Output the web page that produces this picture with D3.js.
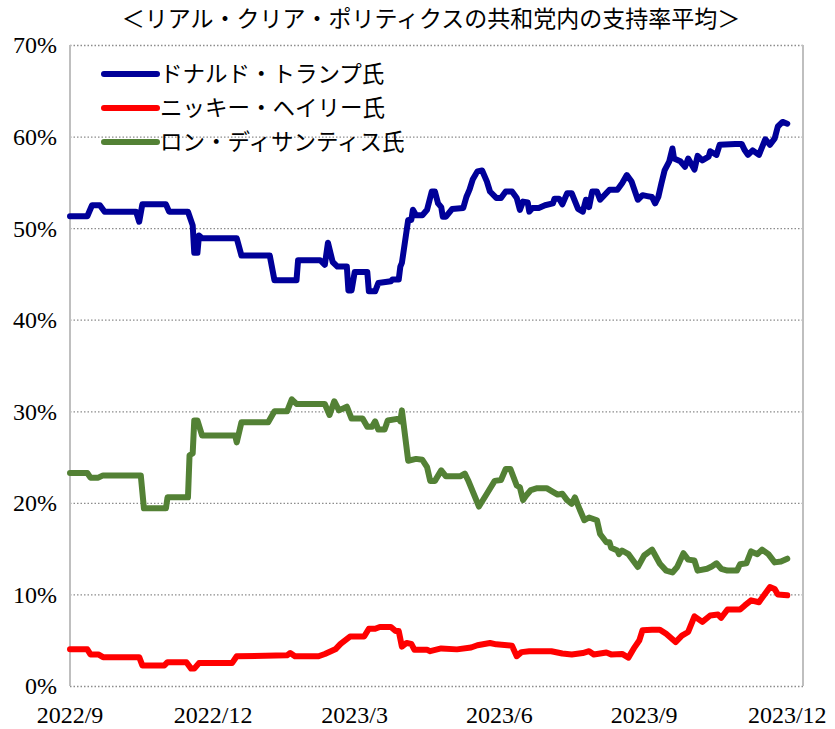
<!DOCTYPE html>
<html>
<head>
<meta charset="utf-8">
<script src="https://cdn.jsdelivr.net/npm/d3@7"></script>
<style>
  body { margin: 0; background: #fff; }
  svg { display: block; }
</style>
</head>
<body>
<svg width="835" height="729"></svg>
<script>
// Chart title, legend names and axis ticks
const title = "＜リアル・クリア・ポリティクスの共和党内の支持率平均＞";
const names = ["ドナルド・トランプ氏", "ニッキー・ヘイリー氏", "ロン・ディサンティス氏"];
const colors = ["#000099", "#ff0000", "#538135"];
const yTicks = [0, 10, 20, 30, 40, 50, 60, 70];
const xTicks = ["2022-09-01", "2022-12-01", "2023-03-01", "2023-06-01", "2023-09-01", "2023-12-01"];

// Support averages (%)
const trump = [
  ["2022-09-01", 51.3], ["2022-09-12", 51.3], ["2022-09-15", 52.5], ["2022-09-20", 52.5],
  ["2022-09-23", 51.8], ["2022-10-13", 51.8], ["2022-10-15", 50.7], ["2022-10-17", 52.6],
  ["2022-11-01", 52.6], ["2022-11-03", 51.8], ["2022-11-15", 51.8], ["2022-11-18", 50.3],
  ["2022-11-19", 47.3], ["2022-11-21", 47.3], ["2022-11-22", 49.2], ["2022-11-24", 48.9],
  ["2022-12-16", 48.9], ["2022-12-19", 47.0], ["2023-01-06", 47.0], ["2023-01-09", 44.3],
  ["2023-01-23", 44.3], ["2023-01-24", 46.5], ["2023-02-07", 46.5], ["2023-02-10", 46.0],
  ["2023-02-12", 48.4], ["2023-02-15", 46.3], ["2023-02-18", 45.8], ["2023-02-24", 45.8],
  ["2023-02-25", 43.2], ["2023-02-27", 43.2], ["2023-03-01", 45.2], ["2023-03-09", 45.2],
  ["2023-03-10", 43.1], ["2023-03-14", 43.1], ["2023-03-16", 44.0], ["2023-03-24", 44.2],
  ["2023-03-25", 44.4], ["2023-03-29", 44.4], ["2023-03-30", 45.8], ["2023-03-31", 46.2],
  ["2023-04-04", 50.9], ["2023-04-06", 50.9], ["2023-04-07", 52.0], ["2023-04-09", 51.4],
  ["2023-04-13", 51.4], ["2023-04-16", 52.0], ["2023-04-19", 54.0], ["2023-04-21", 54.0],
  ["2023-04-23", 52.7], ["2023-04-25", 52.3], ["2023-04-26", 51.25], ["2023-04-28", 51.25],
  ["2023-05-02", 52.1], ["2023-05-09", 52.2], ["2023-05-11", 53.4], ["2023-05-13", 54.2],
  ["2023-05-15", 55.3], ["2023-05-18", 56.2], ["2023-05-21", 56.3], ["2023-05-24", 55.1],
  ["2023-05-26", 54.0], ["2023-05-30", 53.3], ["2023-06-02", 53.3], ["2023-06-05", 54.0],
  ["2023-06-09", 54.0], ["2023-06-12", 53.3], ["2023-06-14", 52.0], ["2023-06-16", 52.9],
  ["2023-06-19", 52.8], ["2023-06-20", 51.8], ["2023-06-22", 52.2], ["2023-06-26", 52.2],
  ["2023-06-30", 52.5], ["2023-07-05", 52.7], ["2023-07-06", 53.2], ["2023-07-09", 53.2],
  ["2023-07-11", 52.6], ["2023-07-14", 53.8], ["2023-07-17", 53.8], ["2023-07-21", 52.1],
  ["2023-07-24", 51.8], ["2023-07-26", 53.1], ["2023-07-28", 52.3], ["2023-07-30", 54.0],
  ["2023-08-02", 54.0], ["2023-08-04", 53.1], ["2023-08-10", 54.2], ["2023-08-15", 54.2],
  ["2023-08-18", 54.9], ["2023-08-21", 55.8], ["2023-08-24", 55.1], ["2023-08-28", 53.1],
  ["2023-08-31", 53.6], ["2023-09-03", 53.5], ["2023-09-06", 53.4], ["2023-09-08", 52.7],
  ["2023-09-10", 53.4], ["2023-09-12", 54.9], ["2023-09-14", 56.3], ["2023-09-17", 57.3],
  ["2023-09-19", 58.7], ["2023-09-20", 57.6], ["2023-09-24", 57.3], ["2023-09-27", 56.7],
  ["2023-09-29", 57.6], ["2023-10-03", 56.4], ["2023-10-05", 57.9], ["2023-10-08", 57.4],
  ["2023-10-12", 57.8], ["2023-10-13", 58.4], ["2023-10-17", 58.0], ["2023-10-19", 59.1],
  ["2023-10-29", 59.2], ["2023-11-02", 59.2], ["2023-11-04", 58.5], ["2023-11-06", 58.0],
  ["2023-11-09", 58.5], ["2023-11-13", 58.0], ["2023-11-17", 59.7], ["2023-11-20", 59.1],
  ["2023-11-23", 59.8], ["2023-11-25", 61.1], ["2023-11-28", 61.6], ["2023-12-01", 61.4]
];

const haley = [
  ["2022-09-01", 4.0], ["2022-09-12", 4.0], ["2022-09-14", 3.45], ["2022-09-19", 3.45],
  ["2022-09-22", 3.15], ["2022-10-15", 3.15], ["2022-10-17", 2.25], ["2022-10-31", 2.25],
  ["2022-11-02", 2.6], ["2022-11-14", 2.6], ["2022-11-17", 1.9], ["2022-11-19", 1.9],
  ["2022-11-22", 2.5], ["2022-12-13", 2.5], ["2022-12-16", 3.25], ["2023-01-17", 3.35],
  ["2023-01-19", 3.6], ["2023-01-22", 3.25], ["2023-02-06", 3.25], ["2023-02-10", 3.5],
  ["2023-02-17", 4.05], ["2023-02-20", 4.6], ["2023-02-26", 5.4], ["2023-03-07", 5.4],
  ["2023-03-10", 6.25], ["2023-03-14", 6.25], ["2023-03-17", 6.45], ["2023-03-24", 6.45],
  ["2023-03-27", 6.0], ["2023-03-29", 6.0], ["2023-03-31", 4.3], ["2023-04-03", 4.7],
  ["2023-04-06", 4.6], ["2023-04-08", 3.95], ["2023-04-16", 3.95], ["2023-04-18", 3.8],
  ["2023-04-25", 4.1], ["2023-05-05", 4.0], ["2023-05-14", 4.2], ["2023-05-18", 4.45],
  ["2023-05-26", 4.7], ["2023-05-30", 4.55], ["2023-06-09", 4.4], ["2023-06-12", 3.25],
  ["2023-06-15", 3.7], ["2023-06-20", 3.8], ["2023-07-04", 3.8], ["2023-07-11", 3.55],
  ["2023-07-17", 3.45], ["2023-07-24", 3.6], ["2023-07-28", 3.8], ["2023-07-31", 3.45],
  ["2023-08-08", 3.65], ["2023-08-11", 3.45], ["2023-08-18", 3.5], ["2023-08-22", 3.1],
  ["2023-08-26", 4.25], ["2023-08-29", 5.0], ["2023-08-31", 6.1], ["2023-09-06", 6.15],
  ["2023-09-11", 6.15], ["2023-09-15", 5.7], ["2023-09-21", 4.8], ["2023-09-25", 5.5],
  ["2023-09-29", 5.9], ["2023-10-03", 7.6], ["2023-10-08", 7.0], ["2023-10-13", 7.7],
  ["2023-10-18", 7.8], ["2023-10-20", 7.45], ["2023-10-24", 8.35], ["2023-11-01", 8.35],
  ["2023-11-04", 8.8], ["2023-11-08", 9.35], ["2023-11-13", 9.15], ["2023-11-17", 10.1],
  ["2023-11-20", 10.8], ["2023-11-23", 10.6], ["2023-11-25", 10.0], ["2023-12-01", 9.9]
];

const desantis = [
  ["2022-09-01", 23.26], ["2022-09-12", 23.26], ["2022-09-14", 22.75], ["2022-09-19", 22.75],
  ["2022-09-22", 23.0], ["2022-10-16", 23.0], ["2022-10-18", 19.4], ["2022-11-01", 19.4],
  ["2022-11-02", 20.6], ["2022-11-15", 20.6], ["2022-11-16", 25.2], ["2022-11-18", 25.4],
  ["2022-11-19", 29.0], ["2022-11-21", 29.0], ["2022-11-24", 27.35], ["2022-12-15", 27.35],
  ["2022-12-16", 26.6], ["2022-12-19", 28.8], ["2023-01-05", 28.8], ["2023-01-09", 30.0],
  ["2023-01-17", 30.0], ["2023-01-20", 31.3], ["2023-01-23", 30.8], ["2023-02-10", 30.8],
  ["2023-02-13", 29.6], ["2023-02-16", 31.1], ["2023-02-19", 30.1], ["2023-02-24", 30.5],
  ["2023-02-27", 29.2], ["2023-03-06", 29.2], ["2023-03-09", 28.3], ["2023-03-12", 28.3],
  ["2023-03-14", 28.9], ["2023-03-16", 28.0], ["2023-03-20", 28.0], ["2023-03-22", 29.0],
  ["2023-03-29", 29.2], ["2023-03-30", 28.9], ["2023-03-31", 30.1], ["2023-04-04", 24.6],
  ["2023-04-09", 24.8], ["2023-04-13", 24.7], ["2023-04-16", 23.9], ["2023-04-18", 22.4],
  ["2023-04-21", 22.4], ["2023-04-25", 23.55], ["2023-04-28", 22.9], ["2023-05-07", 22.9],
  ["2023-05-10", 23.2], ["2023-05-12", 22.5], ["2023-05-19", 19.6], ["2023-05-24", 21.0],
  ["2023-05-29", 22.4], ["2023-06-02", 22.5], ["2023-06-05", 23.7], ["2023-06-08", 23.7],
  ["2023-06-12", 21.9], ["2023-06-14", 21.7], ["2023-06-16", 20.3], ["2023-06-18", 20.8],
  ["2023-06-21", 21.4], ["2023-06-25", 21.6], ["2023-07-01", 21.6], ["2023-07-05", 21.2],
  ["2023-07-08", 20.9], ["2023-07-11", 21.0], ["2023-07-14", 20.3], ["2023-07-17", 19.9],
  ["2023-07-19", 20.6], ["2023-07-22", 19.3], ["2023-07-25", 18.1], ["2023-07-28", 18.4],
  ["2023-08-02", 18.1], ["2023-08-04", 16.6], ["2023-08-08", 15.7], ["2023-08-10", 15.7],
  ["2023-08-11", 15.1], ["2023-08-15", 14.8], ["2023-08-16", 14.4], ["2023-08-18", 14.8],
  ["2023-08-22", 14.4], ["2023-08-28", 13.0], ["2023-09-01", 14.25], ["2023-09-06", 14.9],
  ["2023-09-11", 13.35], ["2023-09-15", 12.6], ["2023-09-19", 12.4], ["2023-09-22", 13.0],
  ["2023-09-26", 14.5], ["2023-09-29", 13.8], ["2023-10-03", 13.7], ["2023-10-05", 12.6],
  ["2023-10-11", 12.8], ["2023-10-14", 13.05], ["2023-10-17", 13.4], ["2023-10-20", 12.8],
  ["2023-10-24", 12.6], ["2023-10-30", 12.6], ["2023-11-01", 13.3], ["2023-11-05", 13.4],
  ["2023-11-08", 14.7], ["2023-11-12", 14.4], ["2023-11-15", 14.9], ["2023-11-19", 14.4],
  ["2023-11-23", 13.5], ["2023-11-27", 13.6], ["2023-12-01", 13.9]
];

const series = [trump, haley, desantis];

const parse = d3.timeParse("%Y-%m-%d");
const svg = d3.select("svg");

const plotL = 70, plotR = 803, plotT = 45, plotB = 686;

const x = d3.scaleTime()
  .domain([parse("2022-09-01"), parse("2023-12-11")])
  .range([plotL, plotR]);

const y = d3.scaleLinear()
  .domain([0, 70])
  .range([plotB, plotT]);

// title
svg.append("text")
  .attr("x", 431)
  .attr("y", 27)
  .attr("text-anchor", "middle")
  .attr("font-family", "'Noto Sans CJK JP', sans-serif")
  .attr("font-size", 23)
  .attr("fill", "#000")
  .text(title);

// dotted gridlines
svg.append("g")
  .selectAll("line")
  .data(yTicks)
  .join("line")
  .attr("x1", plotL)
  .attr("x2", plotR)
  .attr("y1", d => y(d) + 0.5)
  .attr("y2", d => y(d) + 0.5)
  .attr("stroke", "#8c8c8c")
  .attr("stroke-width", 1.3)
  .attr("stroke-dasharray", "1.5,2");

// left axis and right border
svg.append("line")
  .attr("x1", plotL).attr("x2", plotL)
  .attr("y1", plotT).attr("y2", plotB)
  .attr("stroke", "#bfbfbf").attr("stroke-width", 2);
svg.append("line")
  .attr("x1", plotR).attr("x2", plotR)
  .attr("y1", plotT).attr("y2", plotB)
  .attr("stroke", "#bfbfbf").attr("stroke-width", 2);

// y tick labels
svg.append("g")
  .selectAll("text")
  .data(yTicks)
  .join("text")
  .attr("x", 57)
  .attr("y", d => y(d))
  .attr("dy", "0.35em")
  .attr("text-anchor", "end")
  .attr("font-family", "'Liberation Serif', serif")
  .attr("font-size", 24)
  .text(d => d + "%");

// x tick labels
const fmt = d3.timeFormat("%Y/%-m");
svg.append("g")
  .selectAll("text")
  .data(xTicks)
  .join("text")
  .attr("x", d => x(parse(d)))
  .attr("y", 723)
  .attr("text-anchor", "middle")
  .attr("font-family", "'Liberation Serif', serif")
  .attr("font-size", 24)
  .text(d => fmt(parse(d)));

// lines
const line = d3.line()
  .x(d => x(parse(d[0])))
  .y(d => y(d[1]));

svg.append("g")
  .selectAll("path")
  .data(series)
  .join("path")
  .attr("d", line)
  .attr("fill", "none")
  .attr("stroke", (d, i) => colors[i])
  .attr("stroke-width", 6)
  .attr("stroke-linejoin", "round")
  .attr("stroke-linecap", "round");

// legend
const legend = svg.append("g")
  .selectAll("g")
  .data(names)
  .join("g")
  .attr("transform", (d, i) => `translate(104, ${74 + i * 34})`);

legend.append("line")
  .attr("x1", 0).attr("x2", 53)
  .attr("stroke", (d, i) => colors[i])
  .attr("stroke-width", 6)
  .attr("stroke-linecap", "round");

legend.append("text")
  .attr("x", 56)
  .attr("dy", "0.36em")
  .attr("font-family", "'Noto Sans CJK JP', sans-serif")
  .attr("font-size", 22.5)
  .text(d => d);
</script>
</body>
</html>
